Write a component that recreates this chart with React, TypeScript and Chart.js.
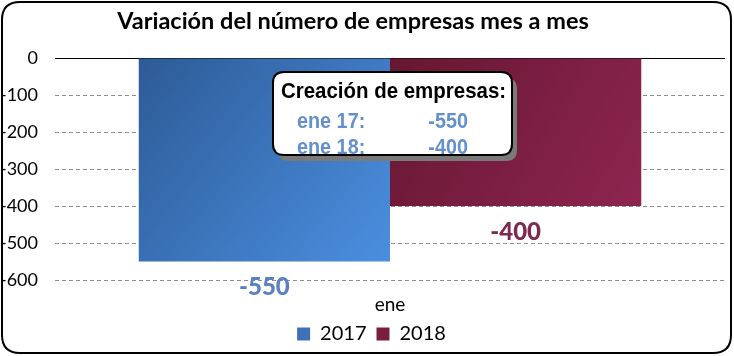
import React, { useEffect, useRef } from 'react';
import { Chart, registerables } from 'chart.js';
Chart.register(...registerables);

const categories = ['ene'];
const seriesNames = ['2017', '2018'];
const values2017 = [-550];
const values2018 = [-400];
const yMin = -600;
const yMax = 0;
const yStep = 100;
const titleText = 'Variación del número de empresas mes a mes';
const boxTitle = 'Creación de empresas:';
const boxLabels = ['ene 17:', 'ene 18:'];
const boxValues = [-550, -400];

const FONT = 'Lato, "Open Sans", sans-serif';
const NARROW = '"Liberation Sans", Arimo, sans-serif';
const gradStops = [
  ['#2d5b96', '#4b8fe0'],
  ['#661731', '#8e2550'],
];
const legendColors = ['#3d72b8', '#7a1e40'];
const labelColors = ['#5a80c2', '#7d2a4c'];
const boxBlue = '#6590cc';

function barGradient(ctx: any, dsIndex: number) {
  const chart = ctx.chart;
  const area = chart.chartArea;
  if (!area) return gradStops[dsIndex][0];
  const xs = chart.scales.x;
  const ys = chart.scales.y;
  const catW = xs.width / categories.length;
  const center = xs.getPixelForValue(0);
  const barW = (catW * 0.75) / 2;
  const left = center - barW + dsIndex * barW;
  const v = dsIndex === 0 ? values2017[0] : values2018[0];
  const g = chart.ctx.createLinearGradient(left, ys.getPixelForValue(0), left + barW, ys.getPixelForValue(v));
  g.addColorStop(0, gradStops[dsIndex][0]);
  g.addColorStop(1, gradStops[dsIndex][1]);
  return g;
}

function roundRect(c: CanvasRenderingContext2D, x: number, y: number, w: number, h: number, r: number) {
  c.beginPath();
  c.moveTo(x + r, y);
  c.lineTo(x + w - r, y);
  c.quadraticCurveTo(x + w, y, x + w, y + r);
  c.lineTo(x + w, y + h - r);
  c.quadraticCurveTo(x + w, y + h, x + w - r, y + h);
  c.lineTo(x + r, y + h);
  c.quadraticCurveTo(x, y + h, x, y + h - r);
  c.lineTo(x, y + r);
  c.quadraticCurveTo(x, y, x + r, y);
  c.closePath();
}

// draws text horizontally condensed (narrow face look-alike)
function narrowText(c: CanvasRenderingContext2D, text: string, x: number, y: number, align: 'left' | 'right' | 'center', sx: number) {
  c.save();
  c.translate(x, y);
  c.scale(sx, 1);
  c.textAlign = align;
  c.fillText(text, 0, 0);
  c.restore();
}

const decor = {
  id: 'decor',
  afterLayout(chart: any) {
    const lg = chart.legend;
    if (lg) {
      lg.left += 9;
      lg.right += 9;
    }
  },
  beforeDraw(chart: any) {
    const c = chart.ctx as CanvasRenderingContext2D;
    c.save();
    c.fillStyle = '#fff';
    c.fillRect(0, 0, chart.width, chart.height);
    roundRect(c, 2, 2, chart.width - 5, chart.height - 5, 18);
    c.lineWidth = 2;
    c.strokeStyle = '#000';
    c.stroke();
    c.fillStyle = '#000';
    c.font = `bold 23.5px ${FONT}`;
    c.textAlign = 'center';
    c.textBaseline = 'middle';
    c.fillText(titleText, 353, 21);
    c.restore();
  },
  beforeDatasetsDraw(chart: any) {
    const c = chart.ctx as CanvasRenderingContext2D;
    const ys = chart.scales.y;
    const a = chart.chartArea;
    const y0 = Math.round(ys.getPixelForValue(0)) + 0.5;
    c.save();
    c.strokeStyle = '#000';
    c.lineWidth = 1;
    c.beginPath();
    c.moveTo(a.left, y0);
    c.lineTo(a.right, y0);
    c.stroke();
    c.restore();
  },
  afterDatasetsDraw(chart: any) {
    const c = chart.ctx as CanvasRenderingContext2D;
    c.save();
    // value labels
    c.font = `900 24px ${FONT}`;
    c.textAlign = 'center';
    c.textBaseline = 'middle';
    chart.data.datasets.forEach((ds: any, i: number) => {
      const meta = chart.getDatasetMeta(i);
      meta.data.forEach((el: any, j: number) => {
        c.fillStyle = labelColors[i];
        c.fillText(String(ds.data[j]), el.x, el.y + 26);
      });
    });
    // annotation box
    const a = chart.chartArea;
    const cx = chart.scales.x.getPixelForValue(0);
    const bw = 239;
    const bh = 83;
    const bx = cx - 117;
    const by = a.top + 14;
    roundRect(c, bx + 5, by + 6, bw, bh, 11);
    c.fillStyle = '#7a7a7a';
    c.fill();
    roundRect(c, bx, by, bw, bh, 11);
    c.fillStyle = '#fff';
    c.fill();
    c.lineWidth = 2;
    c.strokeStyle = '#000';
    c.stroke();
    c.fillStyle = '#000';
    c.font = `bold 22px ${NARROW}`;
    narrowText(c, boxTitle, bx + bw / 2 + 1, by + 20, 'center', 0.93);
    c.font = `bold 22px ${NARROW}`;
    c.fillStyle = boxBlue;
    boxLabels.forEach((lab, i) => {
      const yy = by + 50 + i * 26;
      narrowText(c, lab, bx + 24, yy, 'left', 0.9);
      narrowText(c, String(boxValues[i]), bx + 195, yy, 'right', 0.9);
    });
    c.restore();
  },
};

export default function App() {
  const ref = useRef<HTMLCanvasElement>(null);
  useEffect(() => {
    document.body.style.margin = '0';
    const chart = new Chart(ref.current!, {
      type: 'bar',
      data: {
        labels: categories,
        datasets: [
          { label: seriesNames[0], data: values2017, backgroundColor: (ctx: any) => barGradient(ctx, 0), categoryPercentage: 0.75, barPercentage: 1 },
          { label: seriesNames[1], data: values2018, backgroundColor: (ctx: any) => barGradient(ctx, 1), categoryPercentage: 0.75, barPercentage: 1 },
        ],
      },
      options: {
        animation: false,
        responsive: false,
        layout: { padding: { top: 58, right: 9, left: 0, bottom: 2 } },
        plugins: {
          title: { display: false },
          tooltip: { enabled: false },
          legend: {
            position: 'bottom',
            labels: {
              boxWidth: 13,
              boxHeight: 13,
              padding: 10,
              color: '#000',
              font: { family: FONT, size: 20 },
              generateLabels: () =>
                seriesNames.map((n, i) => ({
                  text: n,
                  fillStyle: legendColors[i],
                  strokeStyle: legendColors[i],
                  lineWidth: 0,
                  datasetIndex: i,
                  hidden: false,
                })),
            },
          },
        },
        scales: {
          x: {
            grid: { display: false, drawTicks: false },
            border: { display: false },
            ticks: { color: '#000', padding: 13, font: { family: FONT, size: 19 } },
            afterFit: (s: any) => { s.height = 34; },
          },
          y: {
            min: yMin,
            max: yMax,
            grid: { color: '#8f8f8f', drawTicks: false, lineWidth: 1 },
            border: { display: false, dash: [4, 3] },
            ticks: {
              stepSize: yStep,
              color: '#000',
              padding: 17,
              font: { family: FONT, size: 18 },
              callback: (v: any) => String(v),
            },
            afterFit: (s: any) => { s.width = 55; },
          },
        },
      },
      plugins: [decor],
    } as any);
    return () => chart.destroy();
  }, []);
  return (
    <div style={{ width: 734, height: 356 }}>
      <canvas ref={ref} width={734} height={356} style={{ display: 'block' }} />
    </div>
  );
}
